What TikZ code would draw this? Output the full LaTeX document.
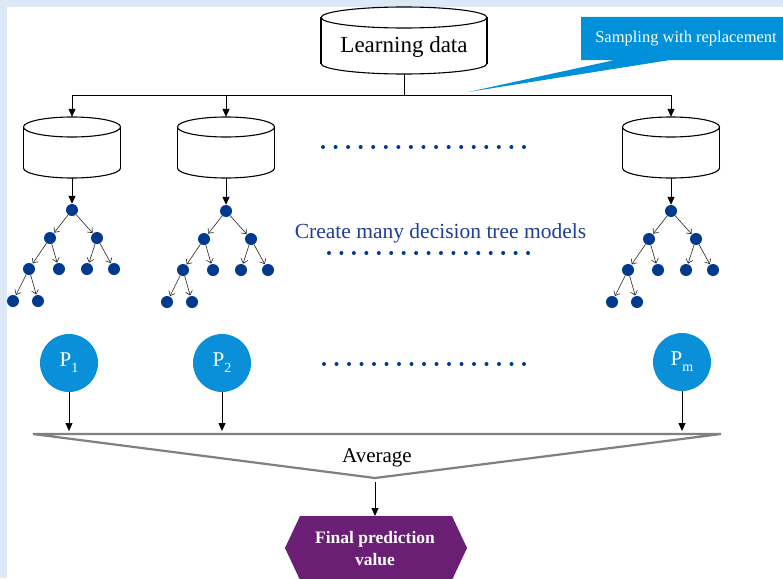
\documentclass[tikz,border=0pt]{standalone}
\usepackage{fontspec}
\setmainfont{Liberation Serif}
\usetikzlibrary{arrows.meta,calc}
\definecolor{bgblue}{HTML}{DCE8F5}
\definecolor{callblue}{HTML}{0091DA}
\definecolor{pblue}{HTML}{0A90D9}
\definecolor{nodeblue}{HTML}{003A8E}
\definecolor{txtblue}{HTML}{1F3F94}
\definecolor{fppurple}{HTML}{6A1F74}
\definecolor{trigray}{HTML}{808080}
\tikzset{
  arr/.style={-{Triangle[length=8pt,width=7pt]}, line width=0.8pt, draw=black},
  tarr/.style={-{Straight Barb[length=4pt,width=7pt]}, line width=0.6pt, draw=black!85, shorten >=0.5pt},
  tnode/.style={circle, fill=nodeblue, inner sep=0pt, minimum size=12pt},
  pnode/.style={circle, fill=pblue, inner sep=0pt, minimum size=58pt, text=white, font=\fontsize{21}{21}\selectfont},
  cylline/.style={draw=black, line width=1.1pt},
  dotrow/.style={fill=nodeblue},
}
\newcommand\mkcyl[6]{%
  \fill[white,cylline] (#2,{#4-#6}) ellipse [x radius=#5pt, y radius=#6pt];
  \fill[white] ({#2-#5+0.8},{#3+#6}) rectangle ({#2+#5-0.8},{#4-#6});
  \draw[cylline] ({#2-#5},{#3+#6}) -- ({#2-#5},{#4-#6}) ({#2+#5},{#3+#6}) -- ({#2+#5},{#4-#6});
  \draw[cylline,fill=white] (#2,{#3+#6}) ellipse [x radius=#5pt, y radius=#6pt];
  \node[inner sep=0pt, minimum width={2*#5*1pt}, minimum height={(#4-#3)*1pt}] (#1) at (#2,{(#3+#4)/2}) {};
}
\newcommand\mktree[3]{%
  \begin{scope}[shift={(#2,#3)}]
  \node[tnode] (#1r) at (0,0) {};
  \node[tnode] (#1a) at (-22,28) {};
  \node[tnode] (#1b) at (25,28) {};
  \node[tnode] (#1c) at (-43,59) {};
  \node[tnode] (#1d) at (-13,59) {};
  \node[tnode] (#1e) at (15,59) {};
  \node[tnode] (#1f) at (42,59) {};
  \node[tnode] (#1g) at (-59,91) {};
  \node[tnode] (#1h) at (-34,91) {};
  \draw[tarr] (#1r) -- (#1a);
  \draw[tarr] (#1r) -- (#1b);
  \draw[tarr] (#1a) -- (#1c);
  \draw[tarr] (#1a) -- (#1d);
  \draw[tarr] (#1b) -- (#1e);
  \draw[tarr] (#1b) -- (#1f);
  \draw[tarr] (#1c) -- (#1g);
  \draw[tarr] (#1c) -- (#1h);
  \end{scope}
}
\begin{document}
\begin{tikzpicture}[x=1pt,y=-1pt]
\useasboundingbox (0,0) rectangle (783,578);
\fill[bgblue] (0,0) rectangle (783,578);
\fill[white] (7,7) rectangle (783,578);

% callout
\fill[callblue] (581,17) -- (783,17) -- (783,60) -- (670,60) -- (468,92) -- (615,60) -- (581,60) -- cycle;
\node[text=white, font=\fontsize{16.5}{18}\selectfont, inner sep=0pt] (sw) at (686,39) {Sampling with replacement};

% learning data cylinder
\mkcyl{ld}{404}{7}{74}{83}{10.5}
\node[font=\fontsize{23}{26}\selectfont, inner sep=0pt] (ldt) at (404,47) {Learning data};

% small cylinders
\mkcyl{c1}{72}{117}{178}{48.5}{10}
\mkcyl{c2}{226}{117}{178}{48.5}{10}
\mkcyl{c3}{671}{117}{178}{48.5}{10}

% bus
\coordinate (bus) at (404,95);
\coordinate (b1) at (72,95);
\coordinate (b2) at (226,95);
\coordinate (b3) at (671,95);
\draw[line width=0.8pt] (ld.south) -- (bus);
\draw[line width=0.8pt] (b1) -- (b3);
\draw[arr] (b1) -- (c1.north);
\draw[arr] (b2) -- (c2.north);
\draw[arr] (b3) -- (c3.north);

% trees
\mktree{ta}{72}{210}
\mktree{tb}{226}{211}
\mktree{tc}{671}{211}
\draw[arr] (c1.south) -- (tar.north);
\draw[arr] (c2.south) -- (tbr.north);
\draw[arr] (c3.south) -- (tcr.north);

% dotted rows
\foreach \i in {0,...,16} {
  \fill[dotrow] ({323+\i*12.56},147) circle (2pt);
  \fill[dotrow] ({329+\i*12.44},253) circle (2pt);
  \fill[dotrow] ({324+\i*12.5},364) circle (2pt);
}
\node[text=txtblue, font=\fontsize{21.5}{24}\selectfont, inner sep=0pt] (cm) at (440.5,233) {Create many decision tree models};

% predictions
\node[pnode] (p1) at (69,363) {P\raisebox{-6pt}{\fontsize{14}{14}\selectfont 1}};
\node[pnode] (p2) at (222,363) {P\raisebox{-6pt}{\fontsize{14}{14}\selectfont 2}};
\node[pnode] (pm) at (682,362) {P\raisebox{-6pt}{\fontsize{14}{14}\selectfont m}};

% averaging triangle
\coordinate (tl) at (33,434);
\coordinate (tr) at (721,434);
\coordinate (apex) at (375,478);
\draw[trigray, line width=2.2pt, line join=bevel] (tl) -- (tr) -- (apex) -- cycle;
\draw[arr] (p1.south) -- ([yshift=3pt]p1.south |- tl);
\draw[arr] (p2.south) -- ([yshift=3pt]p2.south |- tl);
\draw[arr] (pm.south) -- ([yshift=3pt]pm.south |- tl);
\node[font=\fontsize{21}{24}\selectfont, inner sep=0pt] (avg) at (377,458) {Average};

% final prediction
\fill[fppurple] (300,516) -- (452,516) -- (467,548) -- (452,580) -- (300,580) -- (285,548) -- cycle;
\coordinate (fptop) at (375,516);
\node[text=white, font=\bfseries\fontsize{17.5}{22}\selectfont, align=center, inner sep=0pt] (fp) at (375,549) {Final prediction\\value};
\draw[arr] ([yshift=-4pt]apex) -- (fptop);
\end{tikzpicture}
\end{document}
